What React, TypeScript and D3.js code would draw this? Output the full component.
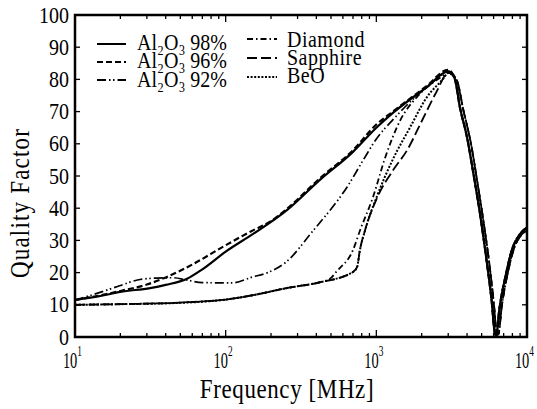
import React from "react";
import * as d3 from "d3";

const W = 537;
const H = 409;

// tick values
const yTicks = [0, 10, 20, 30, 40, 50, 60, 70, 80, 90, 100];
const xMajor = [10, 100, 1000, 10000];
const xExponents = ["1", "2", "3", "4"];

// series data [frequency MHz, Q]
const al98 = [
  [10, 11.5], [15, 12.8], [20, 14], [31.5, 15.2], [40, 16.2], [55, 18], [70, 21], [100, 26.5],
  [152, 32], [255, 39.4], [422, 48.8], [700, 57.5], [1000, 65], [1288, 69.6], [2167, 77.6], [3000, 82.5],
];
const al96 = [
  [10, 11.5], [15, 13], [20, 14.3], [30, 16.3], [40, 18.5], [60, 22.5], [100, 28.5], [150, 33],
  [200, 36], [255, 39.8], [422, 49.3], [700, 58], [1000, 66], [1288, 70], [2167, 78], [3000, 83],
];
const al92 = [
  [10, 11.5], [15, 14], [20, 16], [26, 17.7], [35, 18.3], [45, 18.4], [55, 17.7], [70, 16.9],
  [110, 16.8], [150, 18.6], [190, 20], [255, 23.5], [380, 33], [420, 35.4], [640, 46.6], [820, 55],
  [1000, 61.5], [1290, 67.5], [1860, 75], [2500, 80], [3000, 82.5],
];
const diamond = [
  [10, 10], [20, 10.2], [50, 10.7], [107, 11.8], [152, 13], [255, 15.2], [400, 16.8], [490, 18],
  [548, 20.5], [700, 27], [778, 33], [951, 43.5], [1150, 56], [1430, 67], [1900, 75], [2650, 80.5], [3000, 82],
];
const sapphire = [
  [10, 10], [20, 10.2], [50, 10.7], [107, 11.8], [152, 13], [255, 15.2], [422, 17], [700, 20.2],
  [745, 21.7], [778, 27], [840, 33], [1006, 43], [1300, 52], [1600, 58], [2000, 67], [2500, 76], [3000, 82],
];
const beo = [
  [10, 10], [20, 10.2], [50, 10.6], [107, 11.8], [152, 13], [255, 15.2], [422, 17], [700, 20.2],
  [745, 21.7], [778, 27], [840, 33], [1006, 43.5], [1282, 55], [1670, 65], [2167, 74.5], [2757, 80], [3000, 82],
];
// shared resonance tails after the peak
const tailA = [
  [3300, 80.5], [3600, 71], [4000, 62], [4400, 51], [4870, 38.5], [5420, 23], [5850, 10.5],
  [6100, 1.5], [6250, 0.3], [6550, 8.5], [7250, 19.5], [8000, 27.5], [9000, 32], [10000, 34],
];
const tailB = [
  [3400, 80], [3800, 70], [4250, 60], [4650, 49], [5100, 37], [5650, 22], [6050, 9.5],
  [6300, 1], [6450, 0.8], [6800, 9.5], [7500, 20.5], [8200, 27.5], [9100, 31.5], [10000, 33],
];

const labels = ["Al\u2082O\u2083 98%", "Al\u2082O\u2083 96%", "Al\u2082O\u2083 92%", "Diamond", "Sapphire", "BeO"];

const series = [
  { name: labels[0], pts: al98.concat(tailA), dash: "none", w: 2.2 },
  { name: labels[1], pts: al96.concat(tailA), dash: "6,3", w: 2.2 },
  { name: labels[2], pts: al92.concat(tailB), dash: "9,3,1.5,2.5,1.5,3", w: 1.7 },
  { name: labels[3], pts: diamond.concat(tailB), dash: "6,3,1.5,3", w: 1.8 },
  { name: labels[4], pts: sapphire.concat(tailB), dash: "10,4", w: 1.8 },
  { name: labels[5], pts: beo.concat(tailA), dash: "2,1.6", w: 2 },
];

const L = 75, R = 527, T = 15, B = 337;
const FONT = "Liberation Serif, Times New Roman, Times, serif";

export default function App() {
  const x = d3.scaleLog().domain([10, 10000]).range([L, R]);
  const y = d3.scaleLinear().domain([0, 100]).range([B, T]);
  const line = d3
    .line<number[]>()
    .x((d) => x(d[0]))
    .y((d) => y(d[1]))
    .curve(d3.curveMonotoneX);

  const minor: number[] = [];
  for (let dec = 10; dec < 10000; dec *= 10) {
    for (let k = 2; k <= 9; k++) minor.push(dec * k);
  }

  const legendLeft = [
    { y: 44, ty: 50, dash: "none", name: labels[0] },
    { y: 62, ty: 68, dash: "6,3", name: labels[1] },
    { y: 80, ty: 87, dash: "9,3,1.5,2.5,1.5,3", name: labels[2] },
  ];
  const legendRight = [
    { y: 39, ty: 47, dash: "6,3,1.5,3", name: labels[3] },
    { y: 58, ty: 65, dash: "10,4", name: labels[4] },
    { y: 77, ty: 83, dash: "2,1.6", name: labels[5] },
  ];
  const ts = { fontFamily: FONT };

  return (
    <svg width={W} height={H} style={{ position: "absolute", left: 0, top: 0, background: "#fff" }}>
      <rect x={0} y={0} width={W} height={H} fill="#fff" />
      {/* curves */}
      <g fill="none" stroke="#000">
        {series.map((s) => (
          <path key={s.name} d={line(s.pts as number[][]) || ""} strokeWidth={s.w} strokeDasharray={s.dash} />
        ))}
      </g>
      {/* frame */}
      <rect x={L} y={T} width={R - L} height={B - T} fill="none" stroke="#000" strokeWidth={2.5} />
      {/* ticks */}
      <g stroke="#000" strokeWidth={1.3}>
        {yTicks.slice(1, -1).map((t) => (
          <g key={t}>
            <line x1={L} x2={L + 5} y1={y(t)} y2={y(t)} />
            <line x1={R - 5} x2={R} y1={y(t)} y2={y(t)} />
          </g>
        ))}
        {minor.map((t) => (
          <g key={t}>
            <line x1={x(t)} x2={x(t)} y1={B} y2={B - 4} />
            <line x1={x(t)} x2={x(t)} y1={T} y2={T + 4} />
          </g>
        ))}
        {xMajor.slice(1, -1).map((t) => (
          <g key={t}>
            <line x1={x(t)} x2={x(t)} y1={B} y2={B - 7} />
            <line x1={x(t)} x2={x(t)} y1={T} y2={T + 7} />
          </g>
        ))}
      </g>
      {/* y tick labels */}
      {yTicks.map((t) => (
        <text key={t} style={ts} transform={`translate(69,${y(t) + 7.5}) scale(1,1.13)`} textAnchor="end" fontSize={20}>
          {t}
        </text>
      ))}
      {/* x tick labels */}
      {xMajor.map((t, i) => (
        <text key={t} style={ts} transform={`translate(${x(t) + 7},368) scale(0.72,1.2)`} textAnchor="end" fontSize={20}>
          10
          <tspan fontSize={13} dy={-10}>
            {xExponents[i]}
          </tspan>
        </text>
      ))}
      {/* axis titles */}
      <text style={ts} transform={`translate(287,398) scale(1,1.15)`} textAnchor="middle" fontSize={23} letterSpacing={0.6}>
        Frequency [MHz]
      </text>
      <text style={ts} transform={`translate(29,203) rotate(-90) scale(1,1.15)`} textAnchor="middle" fontSize={23} letterSpacing={1.2}>
        Quality Factor
      </text>
      {/* legend */}
      <g stroke="#000" fill="none">
        {legendLeft.map((l) => (
          <line key={l.name} x1={97} x2={126} y1={l.y} y2={l.y} strokeWidth={2} strokeDasharray={l.dash} />
        ))}
        {legendRight.map((l) => (
          <line key={l.name} x1={247} x2={277} y1={l.y} y2={l.y} strokeWidth={2} strokeDasharray={l.dash} />
        ))}
      </g>
      {legendLeft.map((l) => (
        <text key={l.name} style={ts} transform={`translate(137,${l.ty}) scale(1,1.18)`} fontSize={20}>
          {l.name}
        </text>
      ))}
      {legendRight.map((l) => (
        <text key={l.name} style={ts} transform={`translate(287,${l.ty}) scale(1,1.12)`} fontSize={20} letterSpacing={0.5}>
          {l.name}
        </text>
      ))}
    </svg>
  );
}
